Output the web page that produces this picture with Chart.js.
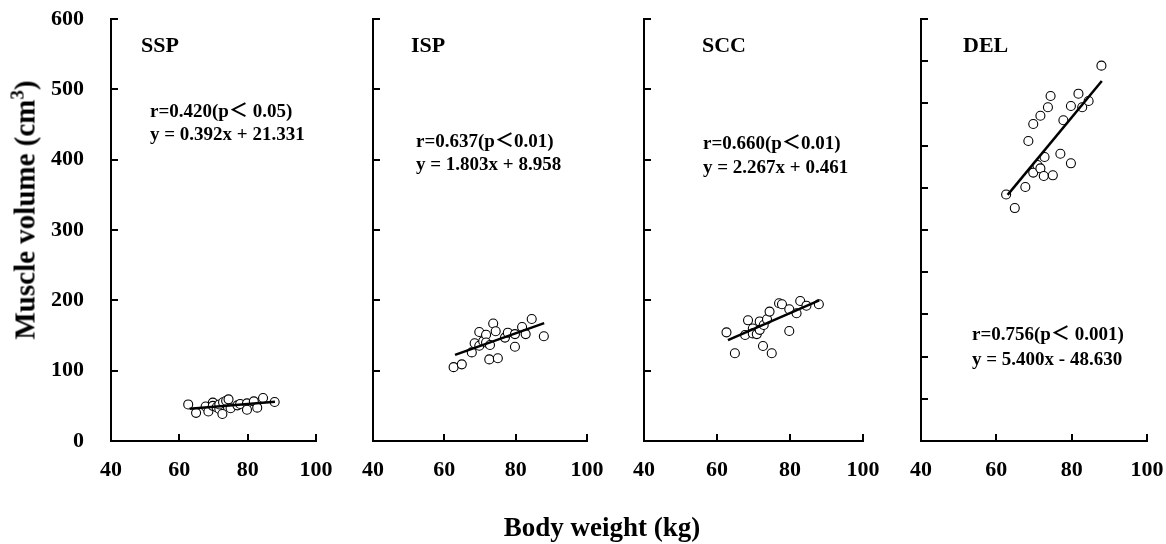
<!DOCTYPE html>
<html>
<head>
<meta charset="utf-8">
<script src="https://cdn.jsdelivr.net/npm/chart.js@4.4.0/dist/chart.umd.min.js"></script>
<style>
  body { margin: 0; background: #fff; width: 1166px; height: 544px; position: relative; overflow: hidden;
         font-family: "Liberation Serif", "Times New Roman", "Noto Sans CJK JP", serif; font-weight: bold; color: #000; }
  canvas { position: absolute; top: 0; }
  .t { position: absolute; white-space: nowrap; line-height: 1; }
</style>
</head>
<body>

<script>
// body weight of each subject (kg), same for all four muscles
var bodyWeight = [62.6, 64.9, 67.7, 68.5, 69.8, 69.8, 70.9, 71.7, 71.7, 72.6, 72.8,
                  73.7, 74.4, 75.0, 77.0, 77.8, 79.8, 79.8, 81.8, 82.8, 84.5, 87.9];

// muscle volume (cm3)
var sspVolume = [52, 40, 49, 42, 54.5, 50, 48, 45.5, 52, 38.4, 55,
                 57.3, 59.2, 46.5, 50.7, 52.6, 53.5, 44.5, 56.4, 47.4, 61.1, 55.4];
var ispVolume = [105, 109, 126, 139, 155, 135.5, 142, 151, 140, 116, 136.5,
                 167, 156, 117.6, 147, 154, 134, 152, 162, 152, 173.5, 149];
var sccVolume = [154.5, 124.7, 150.7, 171.6, 160, 153, 152, 170, 158, 135, 165,
                 173, 184, 124.7, 195.8, 194.4, 156.4, 187.3, 181.6, 199, 192.4, 194.4];
var delVolume = [292, 276, 301, 355.5, 375.6, 318, 327, 385.4, 323, 314, 336.5,
                 395.4, 408.8, 314.8, 340.4, 380, 396.9, 329, 411.5, 395.4, 402.8, 444.7];

// regression line end points [x, y]
var sspFit = [[63, 46.0], [88, 55.8]];
var ispFit = [[63, 122.5], [88, 167.6]];
var sccFit = [[63, 143.3], [88, 200.0]];
var delFit = [[63, 291.6], [88, 426.6]];

// tick labels
var xTicks = [40, 60, 80, 100];
var yTicks = [0, 100, 200, 300, 400, 500, 600];
var yTicksDel = [0, 50, 100, 150, 200, 250, 300, 350, 400, 450, 500];

var panelNames = ["SSP", "ISP", "SCC", "DEL"];
var rText = ["r=0.420(p\uFF1C 0.05)", "r=0.637(p\uFF1C0.01)", "r=0.660(p\uFF1C0.01)", "r=0.756(p\uFF1C 0.001)"];
var eqText = ["y = 0.392x + 21.331", "y = 1.803x + 8.958", "y = 2.267x + 0.461", "y = 5.400x - 48.630"];

// layout of the four panels
var panels = [
  { values: sspVolume, fit: sspFit, ticks: yTicks,    axisX: 111, plotW: 205, yW: 111, labels: true,
    name: [141, 52], eq: [150, 117, 140] },
  { values: ispVolume, fit: ispFit, ticks: yTicks,    axisX: 373, plotW: 214, yW: 40, labels: false,
    name: [411, 52], eq: [416, 147, 170] },
  { values: sccVolume, fit: sccFit, ticks: yTicks,    axisX: 644, plotW: 219, yW: 40, labels: false,
    name: [702, 52], eq: [703, 149, 173] },
  { values: delVolume, fit: delFit, ticks: yTicksDel, axisX: 921, plotW: 226, yW: 40, labels: false,
    name: [963, 52], eq: [972, 340, 365] }
];

var FONT = "'Liberation Serif', 'Times New Roman', serif";

var inwardTicks = {
  id: 'inwardTicks',
  afterDraw: function (chart) {
    var ctx = chart.ctx, a = chart.chartArea, x = chart.scales.x, y = chart.scales.y;
    ctx.save();
    ctx.strokeStyle = '#000';
    ctx.lineWidth = 2;
    ctx.beginPath();
    x.ticks.forEach(function (t) {
      var px = Math.round(x.getPixelForValue(t.value));
      ctx.moveTo(px, a.bottom); ctx.lineTo(px, a.bottom - 7);
    });
    y.ticks.forEach(function (t) {
      var py = Math.round(y.getPixelForValue(t.value));
      ctx.moveTo(a.left, py); ctx.lineTo(a.left + 7, py);
    });
    ctx.stroke();
    ctx.restore();
  }
};

function addText(txt, left, baseline, size) {
  var d = document.createElement('div');
  d.className = 't';
  d.style.left = left + 'px';
  d.style.top = (baseline - 0.84 * size) + 'px';
  d.style.fontSize = size + 'px';
  d.textContent = txt;
  document.body.appendChild(d);
}

panels.forEach(function (p, i) {
  var cv = document.createElement('canvas');
  var w = p.yW + p.plotW + 30;
  cv.width = w; cv.height = 544;
  cv.style.left = (p.axisX - p.yW) + 'px';
  cv.style.width = w + 'px'; cv.style.height = '544px';
  document.body.appendChild(cv);

  var pts = bodyWeight.map(function (bw, k) { return { x: bw, y: p.values[k] }; });
  var tickVals = p.ticks;

  new Chart(cv, {
    type: 'scatter',
    data: {
      datasets: [
        {
          type: 'line',
          data: p.fit.map(function (f) { return { x: f[0], y: f[1] }; }),
          borderColor: '#000',
          borderWidth: 2.5,
          pointRadius: 0,
          fill: false,
          order: 0
        },
        {
          data: pts,
          pointStyle: 'circle',
          pointRadius: 4.5,
          borderWidth: 1.1,
          borderColor: '#000',
          backgroundColor: '#fff',
          order: 1
        }
      ]
    },
    options: {
      responsive: false,
      animation: false,
      devicePixelRatio: 1,
      layout: { padding: { top: 19, right: 30, left: 0, bottom: 0 }, autoPadding: false },
      plugins: { legend: { display: false }, tooltip: { enabled: false } },
      scales: {
        x: {
          type: 'linear',
          min: xTicks[0], max: xTicks[xTicks.length - 1],
          afterBuildTicks: function (s) { s.ticks = xTicks.map(function (v) { return { value: v }; }); },
          afterFit: function (s) { s.height = 544 - 441; s.paddingLeft = 0; s.paddingRight = 0; },
          grid: { display: false, drawTicks: false },
          border: { display: true, color: '#000', width: 2 },
          ticks: { color: '#000', padding: 16, maxRotation: 0, font: { family: FONT, size: 22, weight: 'bold' } }
        },
        y: {
          type: 'linear',
          min: tickVals[0], max: tickVals[tickVals.length - 1],
          afterBuildTicks: function (s) { s.ticks = tickVals.map(function (v) { return { value: v }; }); },
          afterFit: function (s) { s.width = p.yW; s.paddingTop = 0; s.paddingBottom = 0; },
          grid: { display: false, drawTicks: false },
          border: { display: true, color: '#000', width: 2 },
          ticks: { display: p.labels, color: '#000', padding: 27, font: { family: FONT, size: 22, weight: 'bold' } }
        }
      }
    },
    plugins: [inwardTicks]
  });

  addText(panelNames[i], p.name[0], p.name[1], 22);
  addText(rText[i], p.eq[0], p.eq[1], 19);
  addText(eqText[i], p.eq[0], p.eq[2], 19);
});

// axis titles
var yt = document.createElement('div');
yt.className = 't';
yt.style.fontSize = '29px';
yt.style.left = '25px'; yt.style.top = '210px';
yt.style.transform = 'translate(-50%, -50%) rotate(-90deg)';
yt.innerHTML = 'Muscle volume (cm<sup style="font-size:19px;vertical-align:11px;line-height:0">3</sup>)';
document.body.appendChild(yt);

var xt = document.createElement('div');
xt.className = 't';
xt.style.fontSize = '27px';
xt.style.left = '602px'; xt.style.top = '527px';
xt.style.transform = 'translate(-50%, -50%)';
xt.textContent = 'Body weight (kg)';
document.body.appendChild(xt);
</script>
</body>
</html>
